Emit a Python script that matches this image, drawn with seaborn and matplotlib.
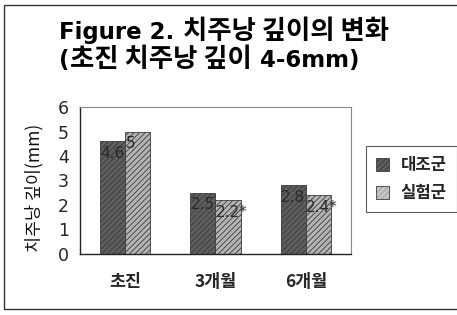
import matplotlib
matplotlib.use("Agg")
import matplotlib.pyplot as plt
import matplotlib.patches as mpatches
from matplotlib.offsetbox import AnchoredOffsetbox, HPacker, TextArea
import pandas as pd
import seaborn as sns

# 치주낭 깊이 변화 (mm)
periods = ["초진", "3개월", "6개월"]
groups = ["대조군", "실험군"]
control = [4.6, 2.5, 2.8]
treated = [5.0, 2.2, 2.4]
value_labels_control = ["4.6", "2.5", "2.8"]
value_labels_treated = ["5", "2.2*", "2.4*"]

df = pd.DataFrame({
    "period": periods * 2,
    "group": [groups[0]] * 3 + [groups[1]] * 3,
    "depth": control + treated,
})

sns.set_style("white")
plt.rcParams["font.family"] = ["Noto Sans CJK KR", "DejaVu Sans"]
plt.rcParams["hatch.linewidth"] = 0.6

fig = plt.figure(figsize=(4.57, 3.15), dpi=100)
ax = fig.add_axes([0.175, 0.195, 0.593, 0.465])

face = {"대조군": "#5e5e5e", "실험군": "#b4b4b4"}
sns.barplot(data=df, x="period", y="depth", hue="group", order=periods,
            hue_order=groups, palette=face, width=0.56, ax=ax,
            edgecolor="#3a3a3a", linewidth=0.6, legend=False)

hatch_col = {"대조군": "#343434", "실험군": "#dedede"}
labels = {"대조군": value_labels_control, "실험군": value_labels_treated}
for cont, g in zip(ax.containers, groups):
    for bar, lab in zip(cont, labels[g]):
        bar.set_hatch("//////")
        bar._hatch_color = matplotlib.colors.to_rgba(hatch_col[g])
        bar.set_edgecolor("#3a3a3a")
        ax.text(bar.get_x() + 0.003, bar.get_height() - 0.2, lab,
                ha="left", va="top", fontsize=11, color="#2a2a2a",
                family=["DejaVu Sans"])

ax.set_ylim(0, 6)
ax.set_yticks(range(0, 7))
ax.tick_params(axis="y", labelsize=12.5, length=0, pad=8)
ax.tick_params(axis="x", labelsize=12.5, length=0, pad=14)
for t in ax.get_yticklabels():
    t.set_family(["DejaVu Sans"])
for t in ax.get_xticklabels():
    t.set_fontweight("bold")
ax.set_xlabel("")
ax.set_ylabel("치주낭 깊이(mm)", fontsize=12.5, color="#111111",
              fontweight="medium")
ax.yaxis.set_label_coords(-0.135, 0.45)
for side in ["top", "right"]:
    ax.spines[side].set_color("#888888")
    ax.spines[side].set_linewidth(0.8)
for side in ["left", "bottom"]:
    ax.spines[side].set_color("#222222")
    ax.spines[side].set_linewidth(1.0)

handles = []
for g in groups:
    p = mpatches.Patch(facecolor=face[g], edgecolor="#3a3a3a", hatch="//////",
                       linewidth=0.6, label=g)
    p._hatch_color = matplotlib.colors.to_rgba(hatch_col[g])
    handles.append(p)
leg = fig.legend(handles=handles, loc="upper left",
                 bbox_to_anchor=(0.80, 0.535), borderaxespad=0,
                 frameon=True, fancybox=False, edgecolor="#333333",
                 handlelength=0.8, handleheight=0.8, handletextpad=0.7,
                 borderpad=0.6, labelspacing=0.6,
                 prop={"weight": "bold", "size": 12})
leg.get_frame().set_linewidth(0.8)

# 제목: 라틴 문자와 한글 크기를 따로
latin = dict(family="DejaVu Sans", weight="bold", size=16.5, color="black")
hangul = dict(family="Noto Sans CJK KR", weight="bold", size=19, color="black")
title_lines = [
    [("Figure 2. ", latin), ("치주낭 깊이의 변화", hangul)],
    [("(", latin), ("초진 치주낭 깊이", hangul), (" 4-6mm)", latin)],
]
for y, parts in zip([0.90, 0.81], title_lines):
    box = HPacker(children=[TextArea(s, textprops=p) for s, p in parts],
                  align="baseline", pad=0, sep=0)
    anch = AnchoredOffsetbox(loc="center left", child=box, pad=0, borderpad=0,
                             frameon=False, bbox_to_anchor=(0.13, y),
                             bbox_transform=fig.transFigure)
    fig.add_artist(anch)

fig.patches.append(mpatches.Rectangle((0.009, 0.018), 0.995, 0.966,
                   transform=fig.transFigure, fill=False,
                   edgecolor="#333333", linewidth=1.0))

fig.savefig("out.png", dpi=100)
